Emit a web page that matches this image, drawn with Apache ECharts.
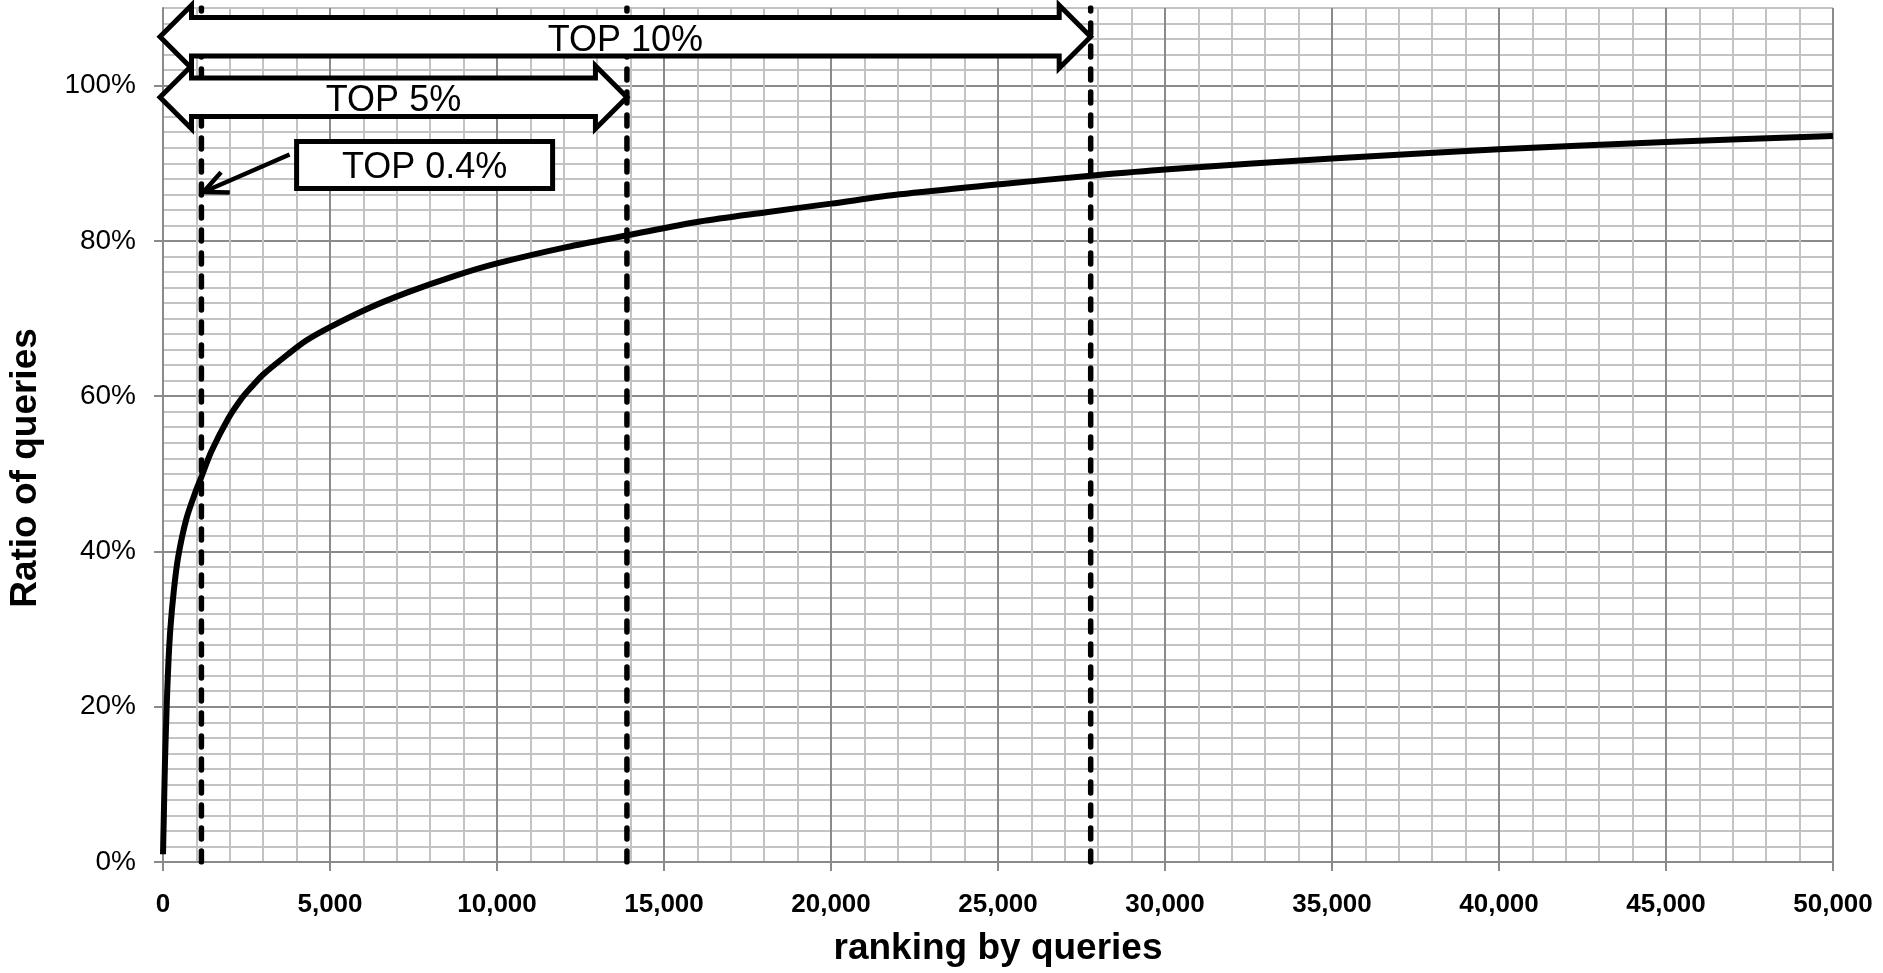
<!DOCTYPE html>
<html>
<head>
<meta charset="utf-8">
<script src="https://cdn.jsdelivr.net/npm/echarts@6/dist/echarts.min.js"></script>
<style>
  html, body { margin: 0; padding: 0; background: #fff; }
  #chart { width: 1883px; height: 973px; }
</style>
</head>
<body>
<div id="chart"></div>
<script>
// Cumulative share of queries (%) covered by the top-N ranked queries
const ranks  = [0, 20, 60, 110, 160, 220, 320, 450, 700, 1000, 1150, 1450, 1950, 2370, 2650, 3000, 3740,
                4300, 5000, 6140, 7340, 8740, 10000, 12080, 13880, 16070, 18070, 20000, 22060, 25060,
                27775, 30000, 35000, 40000, 45000, 50000];
const ratios = [1.0, 5.0, 13.0, 20.0, 25.5, 30.0, 34.8, 39.2, 44.2, 48.0, 49.6, 52.9, 57.1, 59.8, 61.2, 62.8, 65.4,
                67.2, 68.9, 71.3, 73.4, 75.5, 77.1, 79.2, 80.7, 82.5, 83.7, 84.8, 86.0, 87.3,
                88.4, 89.2, 90.6, 91.8, 92.75, 93.5];

// Rank cut-offs for the top 0.4%, 5% and 10% of distinct queries
const boundaryRanks = [1150, 13890, 27775];
const boundaryLabels = ['TOP 0.4%', 'TOP 5%', 'TOP 10%'];

// Labelled ticks
const xTicks = [0, 5000, 10000, 15000, 20000, 25000, 30000, 35000, 40000, 45000, 50000];
const yTicks = [0, 20, 40, 60, 80, 100];

const FONT = '"Liberation Sans", Arial, Helvetica, sans-serif';
const MINOR = '#c3c3c3';
const MAJOR = '#8a8a8a';

const curve = ranks.map((r, i) => [r, ratios[i]]);

// grid lines every 1000 / 2%, every fifth / tenth one darker
const xSplitColors = [MAJOR, MINOR, MINOR, MINOR, MINOR];
const ySplitColors = [MAJOR].concat(new Array(9).fill(MINOR));

const hidden = { show: false };

const chart = echarts.init(document.getElementById('chart'), null, { renderer: 'canvas' });

chart.setOption({
  animation: false,
  backgroundColor: '#ffffff',
  grid: { left: 163, right: 50, top: 8, bottom: 111, containLabel: false },
  xAxis: [
    { // fine grid
      type: 'value', min: 0, max: 50000, interval: 1000,
      axisLine: hidden, axisTick: hidden, axisLabel: hidden,
      splitLine: { show: true, lineStyle: { color: xSplitColors, width: 2 } }
    },
    { // labelled axis
      type: 'value', position: 'bottom', min: 0, max: 50000, interval: 5000,
      axisLine: { show: true, lineStyle: { color: MAJOR, width: 2 } },
      axisTick: { show: true, customValues: xTicks, length: 9, lineStyle: { color: MAJOR, width: 2 } },
      axisLabel: {
        customValues: xTicks,
        formatter: v => Number(v).toLocaleString('en-US'),
        fontFamily: FONT, fontWeight: 'bold', fontSize: 26, color: '#000', margin: 30
      },
      splitLine: hidden,
      name: 'ranking by queries',
      nameLocation: 'middle',
      nameGap: 68,
      nameTextStyle: { fontFamily: FONT, fontWeight: 'bold', fontSize: 37, color: '#000' }
    }
  ],
  yAxis: [
    { // fine grid
      type: 'value', min: 0, max: 110, interval: 2,
      axisLine: hidden, axisTick: hidden, axisLabel: hidden,
      splitLine: { show: true, lineStyle: { color: ySplitColors, width: 2 } }
    },
    { // labelled axis
      type: 'value', position: 'left', min: 0, max: 110, interval: 20,
      axisLine: { show: true, lineStyle: { color: MAJOR, width: 2 } },
      axisTick: { show: true, customValues: yTicks, length: 9, lineStyle: { color: MAJOR, width: 2 } },
      axisLabel: {
        customValues: yTicks,
        formatter: v => v + '%',
        fontFamily: FONT, fontSize: 28, color: '#000', margin: 27
      },
      splitLine: hidden
    }
  ],
  series: boundaryRanks.map(r => ({
    // dashed cut-off lines
    type: 'line',
    xAxisIndex: 0, yAxisIndex: 0,
    data: [[r, 0], [r, 110]],
    showSymbol: false,
    silent: true,
    z: 3,
    lineStyle: { color: '#000', width: 5.5, type: [11, 12], cap: 'round' }
  })).concat([{
    type: 'line',
    xAxisIndex: 0, yAxisIndex: 0,
    data: curve,
    smooth: 0.3,
    showSymbol: false,
    silent: true,
    z: 4,
    lineStyle: { color: '#000', width: 6 }
  }])
});

const px = (x, y) => chart.convertToPixel({ xAxisIndex: 0, yAxisIndex: 0 }, [x, y]);

// Double-headed block arrow spanning [xl, xr] around height cy
function blockArrow(xl, xr, cy) {
  const hl = 31.5, hh = 31.5, hs = 19.2;
  return {
    type: 'polygon',
    z: 100,
    shape: {
      points: [
        [xl, cy], [xl + hl, cy - hh], [xl + hl, cy - hs], [xr - hl, cy - hs], [xr - hl, cy - hh],
        [xr, cy], [xr - hl, cy + hh], [xr - hl, cy + hs], [xl + hl, cy + hs], [xl + hl, cy + hh]
      ]
    },
    style: { fill: '#fff', stroke: '#000', lineWidth: 5, lineJoin: 'miter' }
  };
}

function label(text, x, y) {
  return {
    type: 'text', z: 102, x: x, y: y,
    style: { text: text, font: '36px ' + FONT, fill: '#000', align: 'center', verticalAlign: 'middle' }
  };
}

const left = px(0, 0)[0] - 3;
const graphics = [];

// TOP 10% and TOP 5% spans at the top of the plot
[[2, 106.3], [1, 98.5]].forEach(([k, level]) => {
  const right = px(boundaryRanks[k], level);
  graphics.push(blockArrow(left, right[0], right[1]));
  graphics.push(label(boundaryLabels[k], (left + right[0]) / 2, right[1] + 4));
});

// TOP 0.4% callout box with pointer to its cut-off line
const boxTL = px(4000, 92.8);
const boxW = 256, boxH = 47;
graphics.push({
  type: 'rect', z: 100,
  shape: { x: boxTL[0], y: boxTL[1], width: boxW, height: boxH },
  style: { fill: '#fff', stroke: '#000', lineWidth: 5 }
});
graphics.push(label(boundaryLabels[0], boxTL[0] + boxW / 2, boxTL[1] + boxH / 2 + 3));

const tip = px(boundaryRanks[0], 86.3);
tip[0] += 2;
const tail = [boxTL[0] - 7, boxTL[1] + 13];
const dx = tip[0] - tail[0], dy = tip[1] - tail[1];
const len = Math.hypot(dx, dy);
const ux = dx / len, uy = dy / len, nx = -uy, ny = ux;
const back = 24, half = 11;
graphics.push({
  type: 'line', z: 101,
  shape: { x1: tail[0], y1: tail[1], x2: tip[0] - ux * 2, y2: tip[1] - uy * 2 },
  style: { stroke: '#000', lineWidth: 4.5 }
});
graphics.push({
  type: 'polyline', z: 101,
  shape: {
    points: [
      [tip[0] - ux * back + nx * half, tip[1] - uy * back + ny * half],
      [tip[0], tip[1]],
      [tip[0] - ux * back - nx * half, tip[1] - uy * back - ny * half]
    ]
  },
  style: { stroke: '#000', lineWidth: 4.5, fill: null, lineJoin: 'miter' }
});

// Vertical axis title
graphics.push({
  type: 'text', z: 102, x: 26, y: 468, rotation: Math.PI / 2,
  style: { text: 'Ratio of queries', font: 'bold 37px ' + FONT, fill: '#000', align: 'center', verticalAlign: 'middle' }
});

chart.setOption({ graphic: graphics });
</script>
</body>
</html>
